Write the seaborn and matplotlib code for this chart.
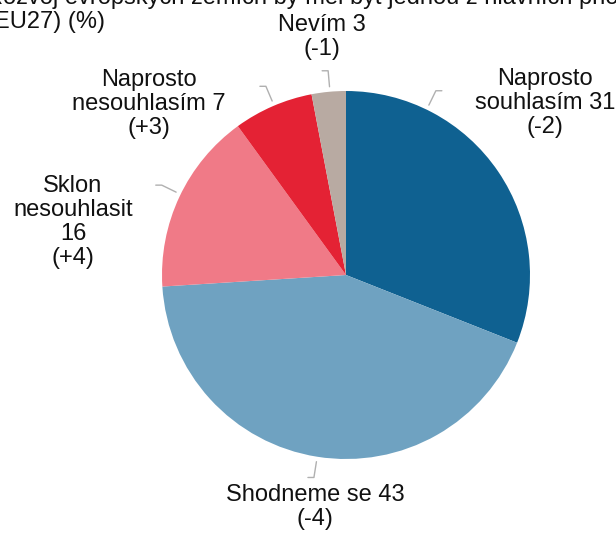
import matplotlib
matplotlib.use("Agg")
import matplotlib.pyplot as plt
import numpy as np
import seaborn as sns

categories = ["Naprosto\nsouhlasím", "Shodneme se", "Sklon\nnesouhlasit", "Naprosto\nnesouhlasím", "Nevím"]
values = [31, 43, 16, 7, 3]
changes = ["-2", "-4", "+4", "+3", "-1"]
colors = ["#0f6191", "#6fa2c1", "#f07a87", "#e42234", "#b8aaa2"]

title = "Rozvoj evropských zemích by měl být jednou z hlavních priorit EU\n(EU27) (%)"

sns.set_theme(style="white")
plt.rcParams["font.family"] = ["Liberation Sans", "DejaVu Sans"]

fig = plt.figure(figsize=(6.16, 5.34), dpi=100)
ax = fig.add_axes([0, 0, 1, 1])

cx, cy, R = 346, 259, 184
ax.pie(values, colors=colors, startangle=90, counterclock=False,
       center=(cx, cy), radius=R, wedgeprops=dict(linewidth=0))
ax.set_xlim(0, 616)
ax.set_ylim(0, 534)
ax.set_aspect("equal")
ax.axis("off")

# label text: centre position (px, y from top), leader angle (deg), kink direction
label_pos = [(545, 103), (315, 507), (73, 222), (149, 104), (322, 37)]
leader_ang = [64, -99, 154, 113, 95]
kink = [1, -1, -1, -1, -1]

for cat, v, ch, (tx, ty), ang, k in zip(categories, values, changes, label_pos, leader_ang, kink):
    if cat.startswith("Sklon"):
        t = f"{cat}\n{v}\n({ch})"
    else:
        t = f"{cat} {v}\n({ch})"
    ax.text(tx, 534 - ty, t, ha="center", va="center", fontsize=17,
            linespacing=1.1, color="#111111")
    a = np.deg2rad(ang)
    r1, r2 = R + 5, R + 21
    x1, y1 = cx + r1 * np.cos(a), cy + r1 * np.sin(a)
    x2, y2 = cx + r2 * np.cos(a), cy + r2 * np.sin(a)
    ax.plot([x1, x2, x2 + 6 * k], [y1, y2, y2], color="#b0b0b0", lw=1)

ax.text(-14, 534 - 10, title, ha="left", va="center", fontsize=17,
        linespacing=1.1, color="#111111", clip_on=False)

fig.savefig("out.png", dpi=100)
